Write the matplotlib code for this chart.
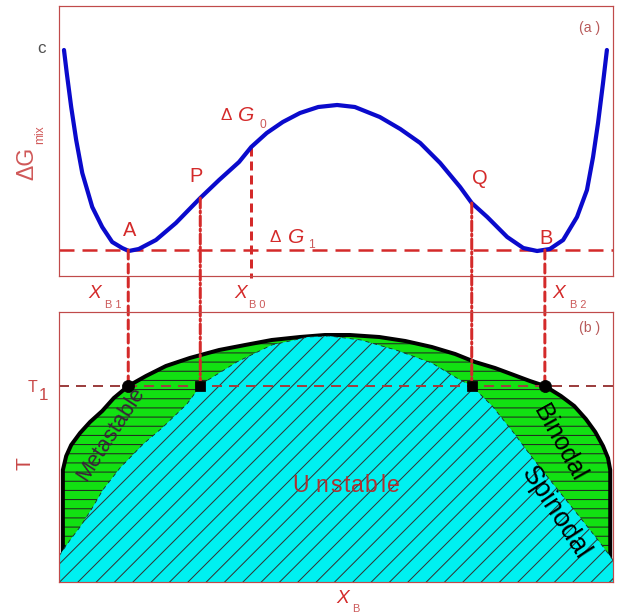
import matplotlib
matplotlib.use("Agg")
import matplotlib.pyplot as plt
from matplotlib.patches import ConnectionPatch

W, H, DPI = 622, 614, 55
PT = 72 / DPI  # points per pixel

plt.rcParams["font.family"] = ["Liberation Sans", "DejaVu Sans"]
plt.rcParams["hatch.linewidth"] = 1.0 * PT
plt.rcParams["lines.scale_dashes"] = False

# (a) free energy of mixing vs composition x_B
g_x = [0.009, 0.014, 0.022, 0.031, 0.042, 0.060, 0.078, 0.096, 0.114, 0.126,
       0.144, 0.175, 0.211, 0.255, 0.289, 0.325, 0.347, 0.375, 0.404, 0.435,
       0.468, 0.502, 0.534, 0.579, 0.616, 0.652, 0.688, 0.724, 0.745, 0.773,
       0.809, 0.838, 0.863, 0.886, 0.910, 0.935, 0.953, 0.964, 0.973, 0.982,
       0.989]
g_val = [226, 203, 169, 136, 103, 69, 49, 34, 28, 25,
         27, 36, 53, 78, 96, 114, 129, 143, 154, 163,
         169, 171, 169, 159, 147, 133, 113, 89, 73, 59,
         39, 28, 25, 27, 36, 59, 86, 119, 153, 193,
         226]

# (b) miscibility gap: binodal and spinodal
bin_x = [0.007, 0.007, 0.013, 0.022, 0.038, 0.056, 0.078, 0.099, 0.125, 0.157,
         0.193, 0.236, 0.289, 0.336, 0.384, 0.435, 0.480, 0.525, 0.578, 0.625,
         0.673, 0.715, 0.751, 0.787, 0.821, 0.850, 0.877, 0.906, 0.930, 0.951,
         0.968, 0.982, 0.991, 0.995, 0.995]
bin_t = [0, 112, 126, 137, 149, 160, 171, 184, 196, 206,
         216, 224, 232, 237, 242, 245, 247, 247, 245, 241,
         235, 228, 220, 214, 207, 201, 196, 186, 176, 163,
         150, 136, 124, 112, 0]
spin_x = [0.0, 0.020, 0.038, 0.060, 0.079, 0.110, 0.152, 0.186, 0.231, 0.255,
          0.269, 0.321, 0.384, 0.449, 0.487, 0.545, 0.608, 0.673, 0.718, 0.745,
          0.782, 0.821, 0.852, 0.892, 0.940, 0.977, 1.0]
spin_t = [26, 42, 55, 74, 92, 114, 138, 154, 178, 196,
          202, 220, 237, 245, 246, 242, 232, 219, 204, 196,
          176, 149, 126, 98, 65, 39, 22]

# tie points at temperature T1
x_b1, x_p, x_b0, x_q, x_b2 = 0.125, 0.255, 0.347, 0.745, 0.877
g1, g_p, g_b0, g_q = 26, 78, 129, 73
T1 = 196

RED = "#d42a2a"
FRAME = "#c04a4a"
LABEL = "#c84848"
SUB = "#cc5a5a"

fig = plt.figure(figsize=(W / DPI, H / DPI), dpi=DPI)
ax_a = fig.add_axes([59 / W, 1 - 276 / H, 554 / W, 270 / H])
ax_b = fig.add_axes([59 / W, 1 - 582 / H, 554 / W, 270 / H])
for ax in (ax_a, ax_b):
    ax.set_xlim(0, 1)
    ax.set_ylim(0, 270)
    ax.set_xticks([])
    ax.set_yticks([])
    for s in ax.spines.values():
        s.set_color(FRAME)
        s.set_linewidth(1.2 * PT)
        s.set_zorder(10)

# ---- panel (a)
ax_a.axhline(g1, color=RED, lw=2.5 * PT, dashes=(15 * PT, 8 * PT), zorder=2)
ax_a.plot([x_b0, x_b0], [g_b0, -2], color=RED, lw=3 * PT,
          dashes=(9 * PT, 5 * PT), clip_on=False, zorder=2)
ax_a.plot(g_x, g_val, color="#0a0acc", lw=4.2 * PT, solid_capstyle="round",
          solid_joinstyle="round", zorder=3)

# ---- panel (b)
ax_b.fill(bin_x, bin_t, facecolor="#12e012", edgecolor="#222222", lw=0,
          hatch="-", zorder=1)
ax_b.plot(bin_x, bin_t, color="black", lw=4 * PT, solid_joinstyle="round",
          zorder=2)
ax_b.fill_between(spin_x, spin_t, 0, facecolor="#00f0f0", edgecolor="#333333",
                  lw=0, hatch="/", zorder=3)
ax_b.plot(spin_x, spin_t, color="#222222", lw=0.8 * PT,
          dashes=(4 * PT, 4 * PT), zorder=3)
ax_b.axhline(T1, color="#9c4040", lw=2 * PT, dashes=(10 * PT, 7 * PT), zorder=4)

dashed = (0, (9 * PT, 5 * PT))
dashdot = (0, (10 * PT, 3 * PT, 2 * PT, 3 * PT))
for xv, gv, ds in [(x_b1, g1, dashed), (x_p, g_p, dashdot),
                   (x_q, g_q, dashdot), (x_b2, g1, dashed)]:
    con = ConnectionPatch(xyA=(xv, gv), coordsA=ax_a.transData,
                          xyB=(xv, T1), coordsB=ax_b.transData,
                          color=RED, lw=3 * PT, linestyle=ds, zorder=5)
    con.set_clip_on(False)
    ax_b.add_artist(con)

ax_b.plot([x_b1, x_b2], [T1, T1], "o", color="black", ms=12 * PT, zorder=6,
          clip_on=False)
ax_b.plot([x_p, x_q], [T1, T1], "s", color="black", ms=10 * PT, zorder=6)


def label(px, py, s, size, **kw):
    kw.setdefault("ha", "center")
    kw.setdefault("va", "baseline")
    kw.setdefault("color", LABEL)
    fig.text(px / W, 1 - py / H, s, fontsize=size * PT, **kw)


# point labels on the curve
for s, px, py in [("A", 130, 236), ("P", 196, 182), ("Q", 480, 184), ("B", 546, 244)]:
    label(px, py, s, 20, color=RED)

label(226, 120, "\u0394", 17, color=RED)
label(246, 121, "G", 21, color=RED, style="italic")
label(263, 128, "0", 12, color=SUB)
label(275, 242, "\u0394", 17, color=RED)
label(296, 243, "G", 21, color=RED, style="italic")
label(311, 248, "1", 12, color=SUB)

for px, sx, s in [(95, 113, "B 1"), (241, 257, "B 0"), (559, 578, "B 2")]:
    label(px, 298, "X", 19, color=RED, style="italic")
    label(sx, 308, s, 11, color=SUB)
label(343, 603, "X", 19, color=RED, style="italic")
label(356, 612, "B", 11, color=SUB)

label(27, 163, "\u0394G", 23, rotation=90, va="center", rotation_mode="anchor",
      color="#d05858")
label(40, 135, "mix", 12, rotation=90, va="center", rotation_mode="anchor",
      color="#d05858")
label(42, 53, "c", 17, color="#505050")
label(590, 32, "(a )", 14, color="#b85a5a")
label(590, 332, "(b )", 14, color="#b85a5a")
label(25, 464, "T", 21, rotation=90, va="center", rotation_mode="anchor")
label(32, 392, "T", 16)
label(44, 400, "1", 17)

label(111, 434, "Metastable", 22, color="#3a203a", rotation=57,
      va="center", rotation_mode="anchor")
label(559, 443, "Binodal", 25, color="black", rotation=-61,
      va="center", rotation_mode="anchor")
label(555, 513, "Spinodal", 27, color="black", rotation=-57,
      va="center", rotation_mode="anchor")
for ch, px in zip("Unstable", [301, 322, 336, 347, 357, 371, 383, 393]):
    label(px, 492, ch, 23, color="#b03030")

fig.savefig("out.png", dpi=DPI)
